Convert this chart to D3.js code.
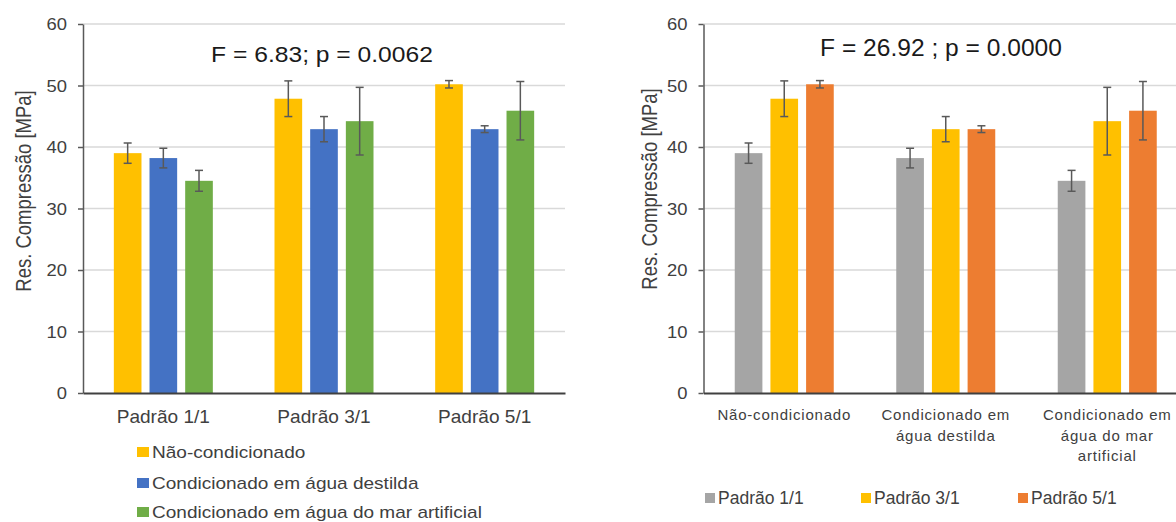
<!DOCTYPE html>
<html>
<head>
<meta charset="utf-8">
<script src="https://cdn.jsdelivr.net/npm/d3@7"></script>
<style>
  body { margin: 0; background: #fff; }
  text { font-family: "Liberation Sans", Arial, sans-serif; }
</style>
</head>
<body>
<script>
const padroes = ['Padrão 1/1', 'Padrão 3/1', 'Padrão 5/1']
const condicoes = ['Não-condicionado', 'Condicionado em água destilda', 'Condicionado em água do mar artificial']

const naoCond = [39.0, 47.85, 50.2]
const naoCondErr = [1.65, 2.9, 0.6]
const aguaDest = [38.2, 42.9, 42.9]
const aguaDestErr = [1.6, 2.05, 0.55]
const aguaMar = [34.5, 44.2, 45.9]
const aguaMarErr = [1.7, 5.5, 4.75]

const yTicks = [0, 10, 20, 30, 40, 50, 60]
const yLabel = 'Res. Compressão [MPa]'
const titleLeft = 'F = 6.83; p = 0.0062'
const titleRight = 'F = 26.92 ; p = 0.0000'

const condColors = ['#FFC000', '#4472C4', '#70AD47']
const padraoColors = ['#A5A5A5', '#FFC000', '#ED7D31']

const means = [naoCond, aguaDest, aguaMar]
const errs = [naoCondErr, aguaDestErr, aguaMarErr]

const svg = d3.select('body').append('svg')
    .attr('width', 1176)
    .attr('height', 522)

svg.append('rect').attr('width', 1176).attr('height', 522).attr('fill', '#fff')

// text in the picture is a bit wider than normal, squeeze it with scaleX
function stretchText(sel, x, y, k) {
  sel.attr('transform', `translate(${x},${y}) scale(${k},1)`)
}

function wrap(textSel, width) {
  textSel.each(function() {
    const text = d3.select(this)
    const words = text.text().split(' ')
    const y = text.attr('y')
    text.text(null)
    let line = []
    let lineNo = 0
    let tspan = text.append('tspan').attr('x', 0).attr('y', y).attr('dy', 0)
    words.forEach(w => {
      line.push(w)
      tspan.text(line.join(' '))
      if (tspan.node().getComputedTextLength() > width && line.length > 1) {
        line.pop()
        tspan.text(line.join(' '))
        line = [w]
        lineNo++
        tspan = text.append('tspan').attr('x', 0).attr('y', y)
                    .attr('dy', lineNo * 20.5).text(w)
      }
    })
  })
}

function drawChart(cfg) {
  const g = svg.append('g')

  const y = d3.scaleLinear().domain([0, 60]).range([393, 24])
  const x0 = d3.scaleBand().domain(cfg.groups).range([cfg.left, cfg.right])
  const x1 = d3.scaleBand().domain(cfg.series).range([-49.5, 49.5]).paddingInner(0.225)

  // horizontal gridlines
  g.selectAll('line.grid')
      .data(yTicks.filter(d => d > 0))
      .enter().append('line')
      .attr('class', 'grid')
      .attr('x1', cfg.left).attr('x2', cfg.right)
      .attr('y1', d => y(d)).attr('y2', d => y(d))
      .attr('stroke', '#d9d9d9')
      .attr('stroke-width', 1.5)

  const cells = []
  cfg.groups.forEach((grp, gi) => {
    cfg.series.forEach((s, si) => {
      cells.push({grp: grp, s: s, v: cfg.value(gi, si), e: cfg.err(gi, si), c: cfg.colors[si]})
    })
  })
  const cx = d => x0(d.grp) + x0.bandwidth() / 2 + x1(d.s)

  g.selectAll('rect.bar')
      .data(cells)
      .enter().append('rect')
      .attr('class', 'bar')
      .attr('x', d => cx(d))
      .attr('width', x1.bandwidth())
      .attr('y', d => y(d.v))
      .attr('height', d => y(0) - y(d.v))
      .attr('fill', d => d.c)

  // error bars
  const eb = g.selectAll('g.err').data(cells).enter().append('g')
      .attr('transform', d => `translate(${cx(d) + x1.bandwidth() / 2},0)`)
      .attr('stroke', '#595959')
      .attr('stroke-width', 1.5)
  eb.append('line').attr('y1', d => y(d.v - d.e)).attr('y2', d => y(d.v + d.e))
  eb.append('line').attr('x1', -4).attr('x2', 4).attr('y1', d => y(d.v + d.e)).attr('y2', d => y(d.v + d.e))
  eb.append('line').attr('x1', -4).attr('x2', 4).attr('y1', d => y(d.v - d.e)).attr('y2', d => y(d.v - d.e))

  // y axis
  const yAxis = g.append('g')
      .attr('transform', `translate(${cfg.left},0)`)
      .call(d3.axisLeft(y).tickValues(yTicks).tickSize(5).tickSizeOuter(0).tickPadding(9))
  yAxis.select('.domain').attr('stroke', '#595959').attr('stroke-width', 1.5)
  yAxis.selectAll('.tick line').attr('stroke', '#595959').attr('stroke-width', 1.5)
  yAxis.selectAll('.tick text')
      .attr('fill', '#404040')
      .style('font-size', '16px')
      .attr('dy', '0.36em')
      .attr('transform', 'scale(1.15,1)')

  // x axis
  const xAxis = g.append('g')
      .attr('transform', `translate(0,${y(0)})`)
      .call(d3.axisBottom(x0).tickSize(0).tickSizeOuter(0))
  xAxis.select('.domain').attr('stroke', '#404040').attr('stroke-width', 2)
  const xt = xAxis.selectAll('.tick text')
      .attr('fill', '#404040')
      .style('font-size', cfg.xFont + 'px')
      .style('letter-spacing', cfg.xSpacing + 'px')
      .attr('y', cfg.xBase)
      .attr('dy', 0)
  if (cfg.wrapWidth) wrap(xt, cfg.wrapWidth)
  xt.attr('transform', `scale(${cfg.xStretch},1)`)

  // y axis title (glyphs a little taller on screen-x, like the source)
  g.append('text')
      .attr('transform', `translate(${cfg.yLabelX},${cfg.yLabelY}) rotate(-90) scale(1,1.15)`)
      .attr('text-anchor', 'middle')
      .attr('fill', '#404040')
      .style('font-size', '18.5px')
      .text(yLabel)

  // statistic in the top
  g.append('text')
      .attr('text-anchor', 'middle')
      .attr('fill', '#1a1a1a')
      .style('font-size', cfg.titleSize + 'px')
      .text(cfg.title)
      .call(stretchText, cfg.titleX, cfg.titleY, cfg.titleStretch)

  return g
}

// left panel: grouped by pattern, coloured by conditioning
drawChart({
  left: 83, right: 565,
  groups: padroes, series: condicoes,
  value: (gi, si) => means[si][gi],
  err: (gi, si) => errs[si][gi],
  colors: condColors,
  xFont: 17.5, xSpacing: 0, xBase: 29.7, xStretch: 1.09,
  yLabelX: 31, yLabelY: 191,
  title: titleLeft, titleSize: 22, titleX: 322, titleY: 61.5, titleStretch: 1.12
})

// right panel: grouped by conditioning, coloured by pattern
drawChart({
  left: 703.5, right: 1188,
  groups: condicoes, series: padroes,
  value: (gi, si) => means[gi][si],
  err: (gi, si) => errs[gi][si],
  colors: padraoColors,
  xFont: 15, xSpacing: 0.8, xBase: 27, xStretch: 1, wrapWidth: 145,
  yLabelX: 657, yLabelY: 189,
  title: titleRight, titleSize: 23.2, titleX: 941, titleY: 56, titleStretch: 1.06
})

// left legend, stacked
const legL = svg.append('g')
const legLY = [452, 483, 512]
condicoes.forEach((c, i) => {
  legL.append('rect')
      .attr('x', 137).attr('y', legLY[i] - 5)
      .attr('width', 12).attr('height', 10)
      .attr('fill', condColors[i])
  legL.append('text')
      .attr('fill', '#404040')
      .style('font-size', '17px')
      .attr('dy', '0.35em')
      .text(c)
      .call(stretchText, 152, legLY[i], 1.12)
})

// right legend, one row
const legR = svg.append('g')
const legRX = [705, 861, 1018]
padroes.forEach((p, i) => {
  legR.append('rect')
      .attr('x', legRX[i]).attr('y', 493)
      .attr('width', 10).attr('height', 10)
      .attr('fill', padraoColors[i])
  legR.append('text')
      .attr('x', legRX[i] + 13).attr('y', 498)
      .attr('dy', '0.35em')
      .attr('fill', '#404040')
      .style('font-size', '17.5px')
      .text(p)
})
</script>
</body>
</html>
